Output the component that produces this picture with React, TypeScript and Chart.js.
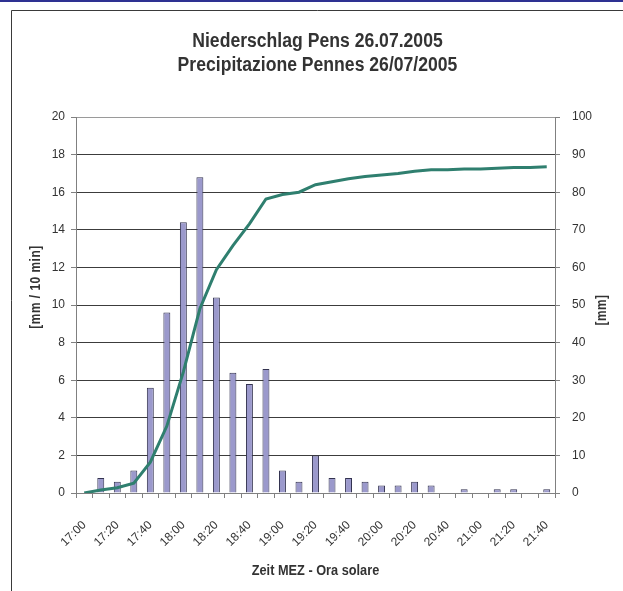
import React, { useEffect, useRef } from "react";
import { Chart, registerables } from "chart.js";

Chart.register(...registerables);

const categories = [
  "17:00", "17:10", "17:20", "17:30", "17:40", "17:50",
  "18:00", "18:10", "18:20", "18:30", "18:40", "18:50",
  "19:00", "19:10", "19:20", "19:30", "19:40", "19:50",
  "20:00", "20:10", "20:20", "20:30", "20:40", "20:50",
  "21:00", "21:10", "21:20", "21:30", "21:40",
];

// precipitation per 10 minutes [mm / 10 min]
const rain10min = [
  0, 0.8, 0.6, 1.2, 5.6, 9.6,
  14.4, 16.8, 10.4, 6.4, 5.8, 6.6,
  1.2, 0.6, 2.0, 0.8, 0.8, 0.6,
  0.4, 0.4, 0.6, 0.4, 0, 0.2,
  0, 0.2, 0.2, 0, 0.2,
];

// cumulative precipitation [mm]
const rainCumulative = [
  0, 0.8, 1.4, 2.6, 8.2, 17.8,
  32.2, 49.0, 59.4, 65.8, 71.6, 78.2,
  79.4, 80.0, 82.0, 82.8, 83.6, 84.2,
  84.6, 85.0, 85.6, 86.0, 86.0, 86.2,
  86.2, 86.4, 86.6, 86.6, 86.8,
];

const titleLines = ["Niederschlag Pens 26.07.2005", "Precipitazione Pennes 26/07/2005"];
const xTitle = "Zeit MEZ - Ora solare";
const yLeftTitle = "[mm / 10 min]";
const yRightTitle = "[mm]";

const FONT = "'Liberation Sans', Arial, sans-serif";
const TEXT = "#333333";

function narrowText(ctx: any, text: string, x: number, y: number, font: string, sx: number, rot = 0, spacing = "0px") {
  ctx.save();
  ctx.translate(x, y);
  if (rot) ctx.rotate(rot);
  ctx.scale(sx, 1);
  ctx.font = font;
  try { ctx.letterSpacing = spacing; } catch (e) {}
  ctx.fillStyle = TEXT;
  ctx.textAlign = "center";
  ctx.textBaseline = rot ? "middle" : "alphabetic";
  ctx.fillText(text, 0, 0);
  ctx.restore();
}

const decorPlugin = {
  id: "decor",
  beforeDraw(chart: any) {
    const ctx = chart.ctx;
    ctx.save();
    ctx.fillStyle = "#ffffff";
    ctx.fillRect(0, 0, chart.width, chart.height);
    ctx.fillStyle = "#2E3192";
    ctx.fillRect(0, 0, chart.width, 2);
    ctx.strokeStyle = "#3a3a3a";
    ctx.lineWidth = 1;
    ctx.beginPath();
    ctx.moveTo(chart.width, 10.5);
    ctx.lineTo(11.5, 10.5);
    ctx.lineTo(11.5, chart.height);
    ctx.stroke();
    ctx.restore();
  },
  afterDraw(chart: any) {
    const ctx = chart.ctx;
    const area = chart.chartArea;
    const cx = (area.left + area.right) / 2 + 2;
    narrowText(ctx, titleLines[0], cx, 47, `bold 20px ${FONT}`, 0.88);
    narrowText(ctx, titleLines[1], cx, 71, `bold 20px ${FONT}`, 0.88);
    narrowText(ctx, xTitle, cx - 2, 575, `bold 15px ${FONT}`, 0.85);
    narrowText(ctx, yLeftTitle, 36, 287, `bold 14px ${FONT}`, 0.85, -Math.PI / 2, "0.6px");
    narrowText(ctx, yRightTitle, 602, 310, `bold 14px ${FONT}`, 0.85, -Math.PI / 2, "0.6px");
  },
};

export default function App() {
  const ref = useRef<HTMLCanvasElement | null>(null);

  useEffect(() => {
    if (!ref.current) return;
    const chart = new Chart(ref.current, {
      type: "bar",
      data: {
        labels: categories,
        datasets: [
          {
            type: "line",
            label: "Summe",
            data: rainCumulative,
            yAxisID: "y1",
            borderColor: "#2F7F6F",
            borderWidth: 3,
            pointRadius: 0,
            tension: 0,
            fill: false,
            order: 0,
          } as any,
          {
            type: "bar",
            label: "Niederschlag",
            data: rain10min,
            yAxisID: "y",
            backgroundColor: "#9B99CC",
            borderColor: "#333350",
            borderWidth: 1,
            categoryPercentage: 1,
            barPercentage: 0.42,
            order: 1,
          },
        ],
      },
      options: {
        responsive: false,
        animation: false,
        layout: { padding: { top: 117, left: 0, right: 0, bottom: 0 } },
        plugins: {
          legend: { display: false },
          title: { display: false },
          tooltip: { enabled: false },
        },
        scales: {
          x: {
            offset: true,
            afterFit(scale: any) {
              scale.height = 98;
            },
            grid: {
              offset: true,
              drawOnChartArea: false,
              drawTicks: true,
              tickLength: 5,
              color: "#808080",
            },
            border: { display: true, color: "#808080", width: 1 },
            ticks: {
              autoSkip: false,
              minRotation: 45,
              maxRotation: 45,
              padding: 20,
              color: TEXT,
              font: { family: FONT, size: 12 },
              callback: (_v: any, i: number) => (i % 2 === 0 ? categories[i] : ""),
            },
          },
          y: {
            position: "left",
            min: 0,
            max: 20,
            afterFit(scale: any) {
              scale.width = 76;
            },
            grid: {
              color: (c: any) => (c.tick && c.tick.value === 20 ? "#9a9a9a" : "#3c3c3c"),
              tickColor: "#808080",
              tickLength: 5,
              drawTicks: true,
            },
            border: { display: true, color: "#808080", width: 1 },
            ticks: {
              stepSize: 2,
              padding: 6,
              color: TEXT,
              font: { family: FONT, size: 12 },
            },
          },
          y1: {
            position: "right",
            min: 0,
            max: 100,
            afterFit(scale: any) {
              scale.width = 68;
            },
            grid: {
              drawOnChartArea: false,
              tickColor: "#808080",
              tickLength: 5,
            },
            border: { display: true, color: "#808080", width: 1 },
            ticks: {
              stepSize: 10,
              padding: 12,
              color: TEXT,
              font: { family: FONT, size: 12 },
            },
          },
        },
      },
      plugins: [decorPlugin],
    });
    return () => chart.destroy();
  }, []);

  return (
    <div style={{ position: "absolute", left: 0, top: 0, width: 623, height: 591 }}>
      <canvas ref={ref} width={623} height={591} style={{ width: 623, height: 591, display: "block" }} />
    </div>
  );
}
